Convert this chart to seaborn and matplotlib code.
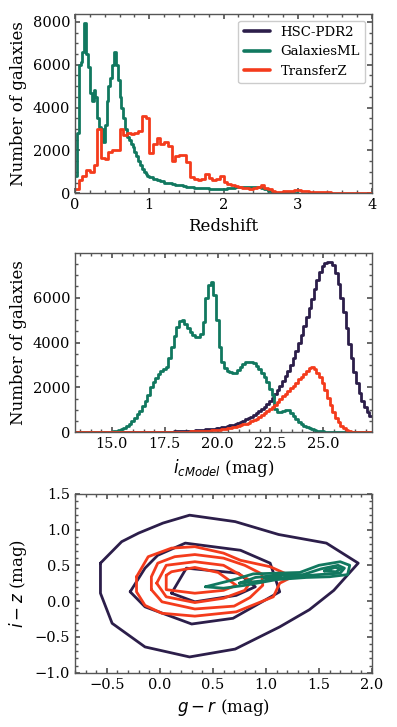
import numpy as np
import pandas as pd
import matplotlib
matplotlib.use("Agg")
import matplotlib.pyplot as plt
from matplotlib.lines import Line2D
import seaborn as sns

# ---------------- data ----------------
survey_names = ["HSC-PDR2", "GalaxiesML", "TransferZ"]
survey_colors = ["#2c1e4a", "#11785f", "#f43b1c"]

# Redshift histograms
galml_z_edges = np.concatenate([np.arange(0.0, 1.0, 0.025), np.arange(1.0, 3.0001, 0.05)])
galml_z_counts = [800, 2800, 6000, 6150, 6600, 7970, 6500, 5900, 4700, 4300,
                  4800, 4500, 3500, 3100, 3000, 2400, 3200, 4300, 5000, 5400,
                  6000, 6600, 6000, 5300, 4500, 4000, 3500, 3000, 2650, 2500,
                  2300, 2150, 1950, 1750, 1500, 1300, 1150, 1000, 900, 820,
                  750, 680, 620, 560, 500, 470, 440, 400, 370, 340,
                  310, 290, 270, 250, 240, 230, 220, 220, 210, 200,
                  210, 230, 260, 280, 300, 310, 300, 290, 300, 280,
                  250, 200, 120, 60, 30, 15, 10, 8, 5, 3]
transz_z_edges = np.arange(0.0, 4.0001, 0.05)
transz_z_counts = [200, 600, 800, 1100, 1000, 1300, 3000, 1650, 1600, 1950,
                   2000, 2000, 3000, 2700, 2800, 2750, 2800, 2900, 3600, 3500,
                   1900, 2300, 2600, 2300, 2400, 2200, 1500, 1750, 1800, 1800,
                   1450, 750, 650, 620, 650, 900, 700, 620, 650, 800,
                   550, 450, 380, 330, 280, 250, 230, 220, 250, 300,
                   380, 250, 180, 110, 80, 70, 90, 110, 130, 140,
                   150, 130, 100, 80, 70, 60, 50, 45, 40, 35,
                   30, 30, 25, 25, 20, 20, 15, 15, 10, 10]

# i_cModel magnitude histograms (bins of 0.125 mag from 13.3 to 27.3)
mag_edges = np.arange(13.3, 27.3001, 0.125)
hsc_mag_counts = [0] * 20 + [
    3, 4, 5, 6, 7, 8, 10, 11, 13, 15,
    17, 19, 21, 24, 27, 30, 34, 38, 42, 46,
    51, 56, 62, 68, 75, 83, 92, 102, 113, 125,
    138, 152, 168, 185, 205, 228, 252, 280, 310, 345,
    385, 425, 470, 520, 575, 635, 700, 770, 850, 940,
    1040, 1150, 1270, 1400, 1540, 1700, 1870, 2060, 2270, 2500,
    2750, 3020, 3320, 3640, 3980, 4340, 4720, 5120, 5530, 5950,
    6370, 6780, 7150, 7400, 7530, 7600, 7580, 7450, 7100, 6600,
    6000, 5350, 4650, 3950, 3300, 2700, 2180, 1750, 1400, 1120,
    900, 720]
galml_mag_counts = [0] * 9 + [
    5, 10, 15, 25, 35, 50, 70, 95, 130, 190,
    270, 380, 520, 650, 800, 960, 1170, 1380, 1650, 2000,
    2250, 2400, 2600, 2750, 2800, 2900, 3300, 3800, 4300, 4700,
    4950, 5000, 4850, 4650, 4450, 4320, 4260, 4250, 4400, 4900,
    6000, 6550, 6700, 6100, 5000, 3820, 3150, 2850, 2750, 2700,
    2650, 2650, 2780, 2920, 3050, 3120, 3150, 3130, 3080, 2950,
    2800, 2650, 2480, 2250, 1950, 1650, 1050, 920, 910, 930,
    980, 990, 880, 720, 600, 480, 370, 290, 220, 170,
    130, 100, 75, 55, 40, 28, 18, 12, 8, 5,
    3] + [0] * 12
transz_mag_counts = [0] * 33 + [
    5, 8, 10, 13, 16, 19, 22, 25, 28, 32,
    36, 40, 45, 50, 56, 63, 70, 78, 87, 97,
    108, 120, 135, 150, 170, 192, 218, 246, 278, 312,
    350, 390, 435, 485, 540, 600, 680, 760, 840, 930,
    1020, 1120, 1230, 1350, 1470, 1600, 1720, 1850, 1960, 2080,
    2220, 2360, 2480, 2600, 2720, 2860, 2900, 2820, 2650, 2450,
    2200, 1900, 1550, 1200, 900, 650, 450, 290, 170, 95,
    50, 25, 12, 5] + [0] * 5

# Colour-colour density contours (g-r, i-z)
hsc_rings = [
    [(-0.56, 0.53), (-0.36, 0.83), (-0.20, 0.95), (0.03, 1.09), (0.28, 1.20), (0.71, 1.11),
     (1.12, 0.93), (1.57, 0.81), (1.87, 0.53), (1.64, 0.15), (1.41, -0.12), (1.13, -0.36),
     (0.71, -0.67), (0.28, -0.78), (-0.14, -0.64), (-0.45, -0.31), (-0.56, 0.11)],
    [(-0.28, 0.13), (-0.14, 0.46), (-0.02, 0.64), (0.24, 0.81), (0.76, 0.71), (1.04, 0.53),
     (1.13, 0.13), (0.69, -0.24), (0.30, -0.32), (-0.14, -0.08)],
    [(0.11, 0.11), (0.25, 0.46), (0.74, 0.39), (0.90, 0.20), (0.72, 0.08), (0.33, -0.01)],
]
transz_rings = [
    [(-0.22, 0.34), (-0.11, 0.62), (0.11, 0.74), (0.33, 0.76), (0.60, 0.67), (0.76, 0.57),
     (1.04, 0.48), (1.25, 0.34), (1.13, 0.25), (1.07, 0.06), (0.72, -0.15), (0.33, -0.21),
     (0.02, -0.17), (-0.14, -0.06), (-0.22, 0.13)],
    [(-0.08, 0.16), (-0.08, 0.34), (-0.02, 0.53), (0.14, 0.62), (0.33, 0.65), (0.60, 0.60),
     (0.80, 0.50), (0.96, 0.38), (0.97, 0.22), (0.85, 0.05), (0.70, -0.07), (0.33, -0.11),
     (0.02, -0.01)],
    [(-0.03, 0.25), (0.06, 0.50), (0.33, 0.55), (0.60, 0.50), (0.86, 0.28), (0.80, 0.15),
     (0.60, 0.04), (0.33, -0.02), (0.06, 0.06)],
    [(0.06, 0.36), (0.11, 0.41), (0.33, 0.47), (0.55, 0.40), (0.72, 0.22), (0.60, 0.15),
     (0.33, 0.11), (0.06, 0.16)],
]
galml_rings = [
    [(0.43, 0.20), (0.70, 0.30), (0.88, 0.38), (1.10, 0.39), (1.32, 0.40), (1.50, 0.50),
     (1.70, 0.55), (1.79, 0.50), (1.77, 0.37), (1.60, 0.34), (1.38, 0.33), (1.10, 0.30),
     (0.80, 0.22), (0.60, 0.18)],
    [(0.75, 0.25), (0.90, 0.33), (1.10, 0.36), (1.35, 0.37), (1.52, 0.45), (1.68, 0.50),
     (1.74, 0.46), (1.70, 0.39), (1.50, 0.37), (1.20, 0.33), (0.95, 0.28)],
    [(1.55, 0.42), (1.65, 0.47), (1.71, 0.45), (1.66, 0.41)],
    [(0.98, 0.33), (1.08, 0.36), (1.14, 0.34), (1.04, 0.32)],
]

# ---------------- style ----------------
sns.set_theme(style="ticks")
edge = "#555555"
plt.rcParams.update({
    "xtick.direction": "in", "ytick.direction": "in",
    "xtick.top": True, "ytick.right": True,
    "xtick.minor.visible": True, "ytick.minor.visible": True,
    "axes.edgecolor": edge, "xtick.color": edge, "ytick.color": edge,
    "xtick.labelcolor": "black", "ytick.labelcolor": "black",
    "axes.labelcolor": "black", "text.color": "black",
    "axes.linewidth": 1.0,
    "xtick.major.size": 3.5, "ytick.major.size": 3.5,
    "xtick.minor.size": 2.0, "ytick.minor.size": 2.0,
    "xtick.labelsize": 10.5, "ytick.labelsize": 10.5,
    "axes.labelsize": 12,
    "mathtext.fontset": "dejavusans",
})
plt.rcParams["font.family"] = ["DejaVu Serif"]

W, H = 397, 727
fig = plt.figure(figsize=(W / 100, H / 100), dpi=100)
left = 75 / W
width = 297 / W
ax1 = fig.add_axes([left, 1 - 193.3 / H, width, 179.3 / H])
ax2 = fig.add_axes([left, 1 - 432.3 / H, width, 179.0 / H])
ax3 = fig.add_axes([left, 1 - 672.7 / H, width, 179.0 / H])

LW = 2.0


def step_hist(ax, edges, counts, color):
    edges = [float(e) for e in edges]
    centers = [0.5 * (a + b) for a, b in zip(edges[:-1], edges[1:])]
    df = pd.DataFrame({"x": centers, "w": [float(c) for c in counts]})
    sns.histplot(data=df, x="x", weights="w", bins=edges,
                 element="step", fill=False, color=color, linewidth=LW, ax=ax)


# top: redshift
step_hist(ax1, galml_z_edges, galml_z_counts, survey_colors[1])
step_hist(ax1, transz_z_edges, transz_z_counts, survey_colors[2])
ax1.set_xlim(0, 4)
ax1.set_ylim(0, 1.05 * max(max(galml_z_counts), max(transz_z_counts)))
ax1.set_xticks([0, 1, 2, 3, 4])
ax1.set_yticks([0, 2000, 4000, 6000, 8000])
ax1.set_xlabel("Redshift")
ax1.set_ylabel("Number of galaxies")
handles = [Line2D([], [], color=c, lw=LW * 1.3) for c in survey_colors]
leg = ax1.legend(handles, survey_names, loc="upper right", fontsize=9.5,
                 frameon=True, fancybox=True, edgecolor="#cccccc", framealpha=1.0)

# middle: magnitude
step_hist(ax2, mag_edges, hsc_mag_counts, survey_colors[0])
step_hist(ax2, mag_edges, galml_mag_counts, survey_colors[1])
step_hist(ax2, mag_edges, transz_mag_counts, survey_colors[2])
ax2.set_xlim(13.26, 27.3)
ax2.set_ylim(0, 1.05 * max(hsc_mag_counts))
ax2.set_xticks([15.0, 17.5, 20.0, 22.5, 25.0])
ax2.set_yticks([0, 2000, 4000, 6000])
ax2.set_xlabel(r"$i_{cModel}$ (mag)")
ax2.set_ylabel("Number of galaxies")

# bottom: colour-colour contours
for rings, color in [(hsc_rings, survey_colors[0]), (transz_rings, survey_colors[2]),
                     (galml_rings, survey_colors[1])]:
    for ring in rings:
        xs = [p[0] for p in ring] + [ring[0][0]]
        ys = [p[1] for p in ring] + [ring[0][1]]
        sns.lineplot(x=xs, y=ys, sort=False, estimator=None, color=color,
                     linewidth=LW, ax=ax3)
ax3.set_xlim(-0.8, 2.0)
ax3.set_ylim(-1.0, 1.5)
ax3.set_xticks([-0.5, 0.0, 0.5, 1.0, 1.5, 2.0])
ax3.set_yticks([-1.0, -0.5, 0.0, 0.5, 1.0, 1.5])
ax3.set_xlabel(r"$g - r$ (mag)")
ax3.set_ylabel(r"$i - z$ (mag)")

for ax in (ax1, ax2, ax3):
    ax.tick_params(which="both", top=True, right=True, direction="in")

fig.savefig("out.png", dpi=100)
